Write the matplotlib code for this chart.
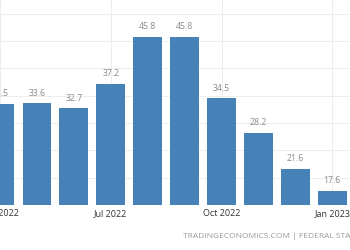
"""Germany producer prices YoY, Apr 2022 - Jan 2023 (cropped tradingeconomics view)."""

import matplotlib
matplotlib.use("Agg")
import matplotlib.pyplot as plt
import numpy as np

# ── Data ────────────────────────────────────────────────────────────────
months = ["Apr 2022", "May 2022", "Jun 2022", "Jul 2022", "Aug 2022",
          "Sep 2022", "Oct 2022", "Nov 2022", "Dec 2022", "Jan 2023"]
values = [33.5, 33.6, 32.7, 37.2, 45.8, 45.8, 34.5, 28.2, 21.6, 17.6]
tick_months = ["Apr 2022", "Jul 2022", "Oct 2022", "Jan 2023"]
source = "TRADINGECONOMICS.COM | FEDERAL STATISTICAL OFFICE"

BAR_COLOR = "#4682b8"
plt.rcParams["font.family"] = ["Open Sans", "DejaVu Sans"]

fig = plt.figure(figsize=(3.5, 2.5), dpi=100)
# axes deliberately extends past the left edge to mimic the cropped view
ax = fig.add_axes([0.0, 0.18, 1.0, 0.82])

x = np.arange(len(months))
ax.bar(x, values, width=0.78, bottom=0, color=BAR_COLOR, zorder=2)

for xi, v in zip(x, values):
    ax.text(xi, v + 1.0, f"{v:.1f}", ha="center", va="bottom",
            fontsize=6.3, color="#8a8a8a", zorder=3)

ax.set_xlim(0.094, 9.48)
ax.set_ylim(15, 52.5)
ax.set_yticks([15, 20, 25, 30, 35, 40, 45, 50])
ax.set_yticklabels([])

tick_pos = [months.index(m) for m in tick_months]
ax.set_xticks(tick_pos)
ax.set_xticklabels(tick_months, fontsize=6.5, color="#333333")
ax.tick_params(axis="both", length=0, pad=3)

ax.grid(True, color="#ededed", linewidth=0.7, zorder=0)
for s in ax.spines.values():
    s.set_visible(False)

fig.text(183 / 350, 1 - 236 / 250, source, ha="left", va="center",
         fontsize=6.0, color="#9a9a9a")

fig.savefig("out.png", dpi=100, facecolor="white")
